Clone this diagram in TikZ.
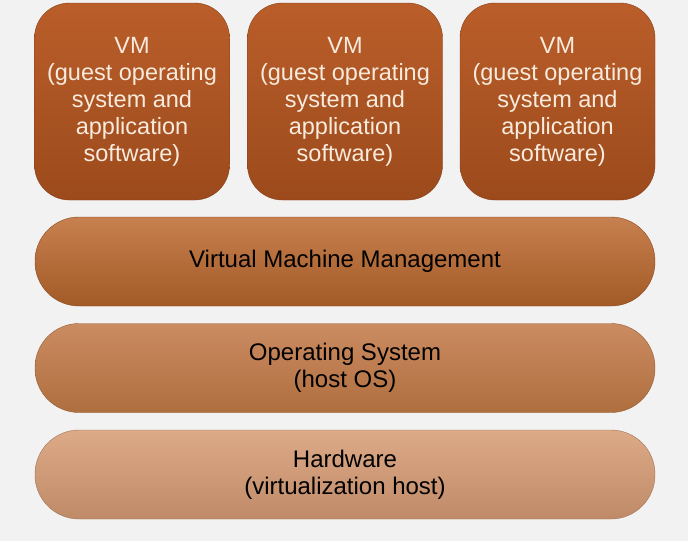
\documentclass[tikz,border=0pt]{standalone}
\usepackage{fontspec}
\setmainfont{Liberation Sans}
\usepackage{tikz}

\definecolor{bgcol}{HTML}{F2F2F2}
\definecolor{vmtop}{HTML}{BA5E2A}
\definecolor{vmmid}{HTML}{CD7B45}
\definecolor{vmbot}{HTML}{9C4A1C}
\definecolor{vmmtop}{HTML}{C7804F}
\definecolor{vmmmid}{HTML}{DB9E70}
\definecolor{vmmbot}{HTML}{A25A26}
\definecolor{ostop}{HTML}{CC8C62}
\definecolor{osmid}{HTML}{DFA880}
\definecolor{osbot}{HTML}{AE6E3E}
\definecolor{hwtop}{HTML}{DDAA88}
\definecolor{hwmid}{HTML}{EFD4B8}
\definecolor{hwbot}{HTML}{BF8A68}
\definecolor{vmtext}{HTML}{F8EBDD}

\tikzset{
  vmbox/.style={rectangle, rounded corners=35pt, minimum width=195pt, minimum height=197pt,
    top color=vmtop, middle color=vmmid, bottom color=vmbot, draw=vmbot!85!black, line width=0.4pt,
    align=center, text=vmtext, inner sep=0pt, font=\fontsize{23.5}{27}\selectfont},
  layer/.style={rectangle, rounded corners=44pt, minimum width=620pt, minimum height=89pt,
    line width=0.4pt, align=center, text=black, inner sep=0pt, font=\fontsize{24}{27}\selectfont}
}

\begin{document}
\begin{tikzpicture}[x=1pt,y=-1pt]
\fill [bgcol] (0,0) rectangle (688,541);
\useasboundingbox (0,0) rectangle (688,541);
% the three virtual machines
\node [vmbox] (vm1) at (132,101.5) {VM\\(guest operating\\system and\\application\\software)};
\node [vmbox] (vm2) at (345,101.5) {VM\\(guest operating\\system and\\application\\software)};
\node [vmbox] (vm3) at (557.5,101.5) {VM\\(guest operating\\system and\\application\\software)};
% layers below
\node [layer, top color=vmmtop, middle color=vmmmid, bottom color=vmmbot, draw=vmmbot!85!black] (vmm) at (345,261.5) {Virtual Machine Management};
\node [layer, top color=ostop, middle color=osmid, bottom color=osbot, draw=osbot!85!black] (os) at (345,368) {Operating System\\(host OS)};
\node [layer, top color=hwtop, middle color=hwmid, bottom color=hwbot, draw=hwbot!85!black] (hw) at (345,474.5) {Hardware\\(virtualization host)};
\end{tikzpicture}
\end{document}
